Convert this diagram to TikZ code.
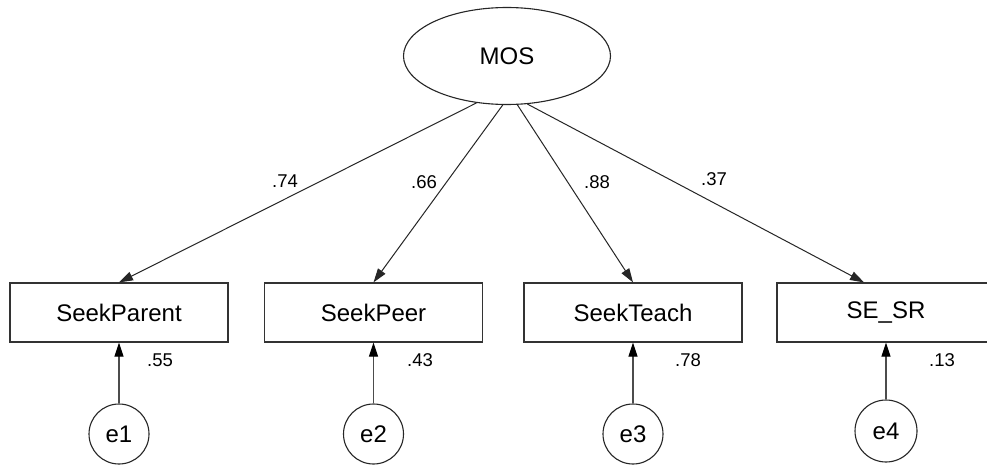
\documentclass[tikz,border=0pt]{standalone}
\usepackage{fontspec}
\setmainfont{Liberation Sans}
\usetikzlibrary{shapes.geometric,arrows.meta}
\begin{document}
\begin{tikzpicture}[x=1pt,y=-1pt,
  obs/.style={draw=black!80,line width=1.2pt,minimum width=218pt,minimum height=59pt,inner sep=0pt,font=\fontsize{24}{28}\selectfont},
  lat/.style={draw=black!85,line width=1.1pt,ellipse,minimum width=207pt,minimum height=97pt,inner sep=0pt,font=\fontsize{24}{28}\selectfont},
  err/.style={draw=black!85,line width=1.1pt,circle,inner sep=0pt,font=\fontsize{24}{28}\selectfont},
  path/.style={draw=black!85,line width=1pt,-{Triangle[length=14pt,width=9pt]}},
  epath/.style={draw=black!70,line width=1.2pt,-{Triangle[length=14pt,width=9pt,color=black]}},
  coef/.style={font=\fontsize{18.5}{22}\selectfont,inner sep=0pt}]
\useasboundingbox[fill=white] (0,0) rectangle (987,465);
\node[lat] (mos) at (507,56) {MOS};
\node[obs] (sp) at (119,312.5) {SeekParent};
\node[obs] (speer) at (373.5,312.5) {SeekPeer};
\node[obs] (steach) at (633,312.5) {SeekTeach};
\node[obs] (ses) at (886,312.5) {SE\_SR};
\node[err,minimum size=60pt] (e1) at (119,434) {e1};
\node[err,minimum size=60pt] (e2) at (373.5,434) {e2};
\node[err,minimum size=60pt] (e3) at (633,434) {e3};
\node[err,minimum size=62pt] (e4) at (886,431) {e4};
\draw[path] (mos.237.5) -- (sp.north);
\draw[path] (mos.265.4) -- (speer.north);
\draw[path] (mos.282.4) -- (steach.north);
\draw[path] (mos.293.6) -- ([xshift=-22pt]ses.north);
\draw[epath] (e1.north) -- (sp.south);
\draw[epath] (e2.north) -- (speer.south);
\draw[epath] (e3.north) -- (steach.south);
\draw[epath] (e4.north) -- (ses.south);
\node[coef] (c1) at (285,181) {.74};
\node[coef] (c2) at (424,182) {.66};
\node[coef] (c3) at (597,182) {.88};
\node[coef] (c4) at (714,179) {.37};
\node[coef] (v1) at (160,360) {.55};
\node[coef] (v2) at (420,360) {.43};
\node[coef] (v3) at (688,360) {.78};
\node[coef] (v4) at (942,360) {.13};
\end{tikzpicture}
\end{document}
